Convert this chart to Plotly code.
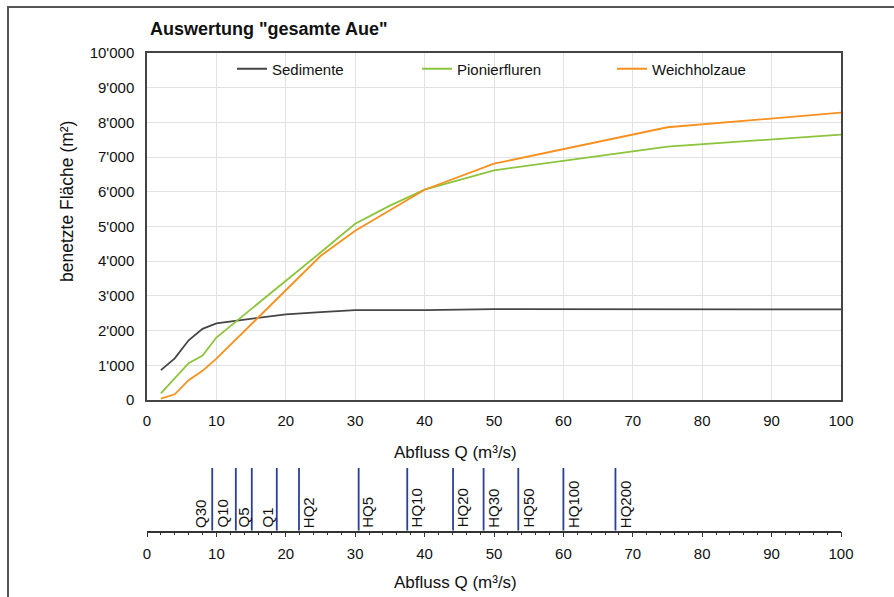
import plotly.graph_objects as go

# ---------------- data ----------------
abfluss = [2, 4, 6, 8, 10, 15, 20, 25, 30, 35, 40, 50, 75, 100]
sedimente = [860, 1200, 1720, 2050, 2210, 2350, 2470, 2530, 2590, 2590, 2590, 2620, 2620, 2610]
pionierfluren = [190, 620, 1060, 1280, 1800, 2620, 3430, 4250, 5080, 5600, 6060, 6620, 7300, 7650]
weichholzaue = [40, 165, 570, 840, 1190, 2180, 3170, 4150, 4880, 5470, 6060, 6810, 7860, 8280]

marker_labels = ["Q30", "Q10", "Q5", "Q1", "HQ2", "HQ5", "HQ10", "HQ20", "HQ30", "HQ50", "HQ100", "HQ200"]
marker_q = [9.4, 12.8, 15.1, 18.7, 21.9, 30.5, 37.5, 44.1, 48.5, 53.5, 60.0, 67.5]

x_ticks = [0, 10, 20, 30, 40, 50, 60, 70, 80, 90, 100]
y_ticks = [0, 1000, 2000, 3000, 4000, 5000, 6000, 7000, 8000, 9000, 10000]

# label offsets (pixels) from their marker line - styling only
label_shift = [-12, -13, -8, -9, 9, 9, 9, 9, 10, 10, 10, 10]

# ---------------- geometry helpers ----------------
W, H = 894, 597
def px(x):
    return x / W
def py(y):
    return (H - y) / H

FONT = "Liberation Sans, Arial, sans-serif"
col_sed = "#454545"
col_pio = "#8cc43c"
col_wei = "#f7901e"
col_blue = "#2b3f97"
col_txt = "#111111"

fig = go.Figure()

fig.add_trace(go.Scatter(x=abfluss, y=sedimente, mode="lines", name="Sedimente",
                         line=dict(color=col_sed, width=1.8), legend="legend"))
fig.add_trace(go.Scatter(x=abfluss, y=pionierfluren, mode="lines", name="Pionierfluren",
                         line=dict(color=col_pio, width=1.8), legend="legend2"))
fig.add_trace(go.Scatter(x=abfluss, y=weichholzaue, mode="lines", name="Weichholzaue",
                         line=dict(color=col_wei, width=1.8), legend="legend3"))

# vertical marker lines in the lower axis
vx, vy = [], []
for q in marker_q:
    vx += [q, q, None]
    vy += [0, 1, None]
fig.add_trace(go.Scatter(x=vx, y=vy, mode="lines", xaxis="x2", yaxis="y2",
                         line=dict(color=col_blue, width=1.8), showlegend=False,
                         hoverinfo="skip"))

annotations = []
for lab, q, sh in zip(marker_labels, marker_q, label_shift):
    annotations.append(dict(
        x=q, y=0, xref="x2", yref="y2", text=lab, showarrow=False,
        textangle=-90, xanchor="center", yanchor="bottom",
        xshift=sh, yshift=1,
        font=dict(family=FONT, size=15, color=col_txt)))

# y axis title
annotations.append(dict(x=px(67), y=py(202), xref="paper", yref="paper",
                        text="benetzte Fläche (m²)", showarrow=False, textangle=-90,
                        xanchor="center", yanchor="middle",
                        font=dict(family=FONT, size=17.5, color=col_txt)))
# x axis titles
annotations.append(dict(x=px(455), y=py(452), xref="paper", yref="paper",
                        text="Abfluss Q (m³/s)", showarrow=False,
                        xanchor="center", yanchor="middle",
                        font=dict(family=FONT, size=17, color=col_txt)))
annotations.append(dict(x=px(455), y=py(582), xref="paper", yref="paper",
                        text="Abfluss Q (m³/s)", showarrow=False,
                        xanchor="center", yanchor="middle",
                        font=dict(family=FONT, size=17, color=col_txt)))

shapes = [dict(type="rect", xref="paper", yref="paper",
               x0=px(8), x1=1.05, y0=-0.05, y1=py(7),
               line=dict(color="#555555", width=2), fillcolor="rgba(0,0,0,0)")]

legend_common = dict(orientation="h", xanchor="left", yanchor="middle",
                     bgcolor="rgba(0,0,0,0)", borderwidth=0, itemwidth=30,
                     font=dict(family=FONT, size=15, color=col_txt))

fig.update_layout(
    width=W, height=H, autosize=False,
    margin=dict(l=0, r=0, t=0, b=0, pad=0, autoexpand=False),
    paper_bgcolor="white", plot_bgcolor="white",
    separators=".'",
    font=dict(family=FONT, size=15, color=col_txt),
    title=dict(text="<b>Auswertung \"gesamte Aue\"</b>", x=px(150), xanchor="left",
               y=py(29), yanchor="middle",
               font=dict(family=FONT, size=18, color=col_txt)),
    xaxis=dict(domain=[px(147), px(841)], range=[0, 100], tickvals=x_ticks,
               showgrid=True, gridcolor="#e2e2e2", gridwidth=1,
               showline=True, linecolor="#444444", linewidth=1.5, mirror=True,
               ticks="", zeroline=False, ticklabelstandoff=6, automargin=False,
               tickfont=dict(family=FONT, size=15, color=col_txt),
               anchor="y"),
    yaxis=dict(domain=[py(400), py(53)], range=[0, 10000], tickvals=y_ticks,
               tickformat=",d", automargin=False,
               showgrid=True, gridcolor="#e2e2e2", gridwidth=1,
               showline=True, linecolor="#444444", linewidth=1.5, mirror=True,
               ticks="", zeroline=False, ticklabelstandoff=8,
               tickfont=dict(family=FONT, size=15, color=col_txt),
               anchor="x"),
    xaxis2=dict(domain=[px(147), px(841)], range=[0, 100], tickvals=x_ticks,
                showgrid=False, showline=True, linecolor="#333333", linewidth=1.5,
                ticks="outside", ticklen=5, tickwidth=1.3, tickcolor="#333333",
                minor=dict(dtick=2, ticks="outside", ticklen=3, tickwidth=1.2,
                           tickcolor="#333333", showgrid=False),
                zeroline=False, ticklabelstandoff=4, automargin=False,
                tickfont=dict(family=FONT, size=15, color=col_txt),
                anchor="y2"),
    yaxis2=dict(domain=[py(530.7), py(468)], range=[0, 1], visible=False,
                anchor="x2", fixedrange=True, automargin=False),
    legend=dict(x=px(232), y=py(69), **legend_common),
    legend2=dict(x=px(417), y=py(69), **legend_common),
    legend3=dict(x=px(612), y=py(69), **legend_common),
    annotations=annotations,
    shapes=shapes,
)

fig.write_html("out.html",
               config={"displayModeBar": False},
               post_script="document.body.style.margin='0px';"
                           "document.body.style.overflow='hidden';")
